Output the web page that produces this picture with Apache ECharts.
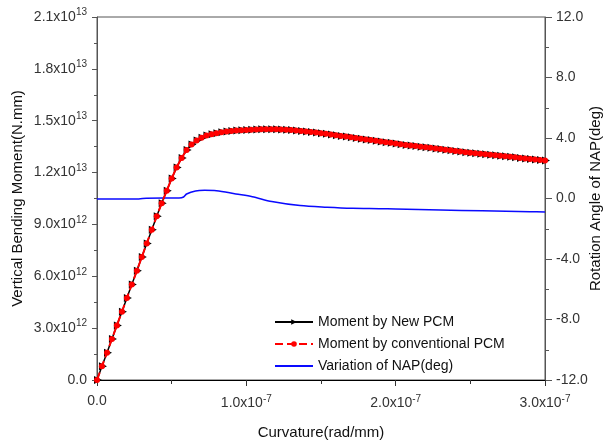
<!DOCTYPE html>
<html>
<head>
<meta charset="utf-8">
<script src="https://cdn.jsdelivr.net/npm/echarts@6/dist/echarts.min.js"></script>
<style>
  html, body { margin: 0; padding: 0; background: #fff; }
  #chart { width: 606px; height: 446px; }
</style>
</head>
<body>
<div id="chart"></div>
<script>
// curvature in units of 1e-7 rad/mm
var curvature = [0, 0.033, 0.067, 0.1, 0.133, 0.167, 0.2, 0.233, 0.267, 0.3,
    0.333, 0.367, 0.4, 0.433, 0.467, 0.5, 0.533, 0.567, 0.6, 0.633,
    0.667, 0.7, 0.733, 0.767, 0.8, 0.833, 0.867, 0.9, 0.933, 0.967,
    1.0, 1.033, 1.067, 1.1, 1.133, 1.167, 1.2, 1.233, 1.267, 1.3,
    1.333, 1.367, 1.4, 1.433, 1.467, 1.5, 1.533, 1.567, 1.6, 1.633,
    1.667, 1.7, 1.733, 1.767, 1.8, 1.833, 1.867, 1.9, 1.933, 1.967,
    2.0, 2.033, 2.067, 2.1, 2.133, 2.167, 2.2, 2.233, 2.267, 2.3,
    2.333, 2.367, 2.4, 2.433, 2.467, 2.5, 2.533, 2.567, 2.6, 2.633,
    2.667, 2.7, 2.733, 2.767, 2.8, 2.833, 2.867, 2.9, 2.933, 2.967, 3.0];

// moment in units of 1e12 N.mm
var momentNewPCM = [0, 0.79, 1.58, 2.37, 3.16, 3.95, 4.74, 5.53, 6.32, 7.11,
    7.9, 8.69, 9.47, 10.22, 10.95, 11.65, 12.3, 12.85, 13.3, 13.62,
    13.85, 14.02, 14.14, 14.22, 14.28, 14.33, 14.37, 14.4, 14.43, 14.45,
    14.47, 14.48, 14.49, 14.5, 14.5, 14.5, 14.5, 14.49, 14.48, 14.46,
    14.44, 14.41, 14.38, 14.35, 14.32, 14.28, 14.24, 14.2, 14.16, 14.12,
    14.08, 14.04, 14.0, 13.96, 13.92, 13.88, 13.84, 13.8, 13.76, 13.72,
    13.68, 13.64, 13.6, 13.57, 13.53, 13.5, 13.46, 13.43, 13.39, 13.36,
    13.32, 13.29, 13.25, 13.22, 13.18, 13.15, 13.12, 13.09, 13.06, 13.03,
    13.0, 12.97, 12.94, 12.91, 12.88, 12.85, 12.82, 12.79, 12.76, 12.73, 12.7];
// the conventional PCM curve sits on top of the new one
var momentConvPCM = momentNewPCM.slice();

// NAP rotation (deg) against curvature (1e-7)
var napCurv = [0, 0.28, 0.33, 0.55, 0.58, 0.6, 0.66, 0.72, 0.8, 0.93, 1.04, 1.17,
    1.36, 1.54, 1.71, 1.89, 2.0, 2.3, 2.58, 2.9, 3.0];
var napAngle = [-0.03, -0.03, 0.02, 0.03, 0.1, 0.3, 0.5, 0.54, 0.52, 0.3, 0.12, -0.2,
    -0.47, -0.58, -0.65, -0.67, -0.69, -0.76, -0.81, -0.87, -0.89];

function pairs(xs, ys) {
    return xs.map(function (x, i) { return [x, ys[i]]; });
}

var FONT = 'Liberation Sans';
var rich = {
    m: { fontSize: 14, color: '#333', fontFamily: FONT },
    e: { fontSize: 10, color: '#333', fontFamily: FONT, padding: [0, 0, 9, 0] }
};

function sci(v, exp) {
    return '{m|' + v.toFixed(1) + 'x10}{e|' + exp + '}';
}

var myChart = echarts.init(document.getElementById('chart'));
myChart.setOption({
    backgroundColor: '#fff',
    animation: false,
    grid: {
        left: 97, right: 61, top: 17, bottom: 66,
        containLabel: false,
        outerBoundsMode: 'none',
        show: true, borderColor: '#555', borderWidth: 1
    },
    legend: {
        orient: 'vertical',
        left: 269, top: 310,
        itemWidth: 38, itemHeight: 7, itemGap: 8,
        textStyle: { fontFamily: FONT, fontSize: 14, color: '#111' },
        data: [
            'Moment by New PCM',
            'Moment by conventional PCM',
            { name: 'Variation of NAP(deg)', itemStyle: { color: 'transparent', borderColor: 'transparent', borderWidth: 0 } }
        ]
    },
    xAxis: {
        type: 'value',
        min: 0, max: 3, interval: 1,
        name: 'Curvature(rad/mm)',
        nameLocation: 'middle', nameGap: 45,
        nameTextStyle: { fontFamily: FONT, fontSize: 15, color: '#111' },
        axisLine: { onZero: false, lineStyle: { color: '#000', width: 1 } },
        axisTick: { show: true, inside: false, length: 6, lineStyle: { color: '#333' } },
        minorTick: { show: true, splitNumber: 2, length: 4, lineStyle: { color: '#333' } },
        splitLine: { show: false },
        axisLabel: {
            margin: 14,
            rich: rich,
            formatter: function (v) { return v === 0 ? '{m|0.0}' : sci(v, '-7'); }
        }
    },
    yAxis: [
        {
            type: 'value',
            min: 0, max: 21, interval: 3,
            name: 'Vertical Bending Moment(N.mm)',
            nameLocation: 'middle', nameGap: 72, nameMoveOverlap: false,
            nameTextStyle: { fontFamily: FONT, fontSize: 15, color: '#111' },
            axisLine: { show: true, onZero: false, lineStyle: { color: '#555', width: 1 } },
            axisTick: { show: true, inside: false, length: 5, lineStyle: { color: '#555' } },
            minorTick: { show: true, splitNumber: 2, length: 3, lineStyle: { color: '#555' } },
            splitLine: { show: false },
            axisLabel: {
                margin: 10,
                rich: rich,
                formatter: function (v) {
                    if (v === 0) return '{m|0.0}';
                    if (v >= 10) return sci(v / 10, '13');
                    return sci(v, '12');
                }
            }
        },
        {
            type: 'value',
            position: 'right',
            min: -12, max: 12, interval: 4,
            name: 'Rotation Angle of NAP(deg)',
            nameLocation: 'middle', nameGap: 43, nameRotate: 90, nameMoveOverlap: false,
            nameTextStyle: { fontFamily: FONT, fontSize: 15, color: '#111' },
            axisLine: { show: true, onZero: false, lineStyle: { color: '#555', width: 1 } },
            axisTick: { show: true, inside: false, length: 7, lineStyle: { color: '#555' } },
            minorTick: { show: true, splitNumber: 2, length: 4, lineStyle: { color: '#555' } },
            splitLine: { show: false },
            axisLabel: {
                margin: 11,
                fontFamily: FONT, fontSize: 14, color: '#333',
                formatter: function (v) { return v.toFixed(1); }
            }
        }
    ],
    series: [
        {
            name: 'Moment by New PCM',
            type: 'line',
            yAxisIndex: 0,
            z: 2,
            data: pairs(curvature, momentNewPCM),
            symbol: 'triangle',
            symbolRotate: -90,
            symbolSize: 8,
            symbolOffset: [1, 0],
            showAllSymbol: true,
            itemStyle: { color: '#000' },
            lineStyle: { color: '#000', width: 1.5 }
        },
        {
            name: 'Moment by conventional PCM',
            type: 'line',
            yAxisIndex: 0,
            z: 3,
            data: pairs(curvature, momentConvPCM),
            symbol: 'circle',
            symbolSize: 6,
            showAllSymbol: true,
            itemStyle: { color: '#ff0000' },
            lineStyle: { color: '#ff0000', width: 2, type: 'dashed' }
        },
        {
            name: 'Variation of NAP(deg)',
            type: 'line',
            yAxisIndex: 1,
            z: 1,
            data: pairs(napCurv, napAngle),
            symbol: 'none',
            smooth: 0.3,
            itemStyle: { color: '#0a0aff' },
            lineStyle: { color: '#0a0aff', width: 1.5 }
        }
    ]
});
</script>
</body>
</html>
